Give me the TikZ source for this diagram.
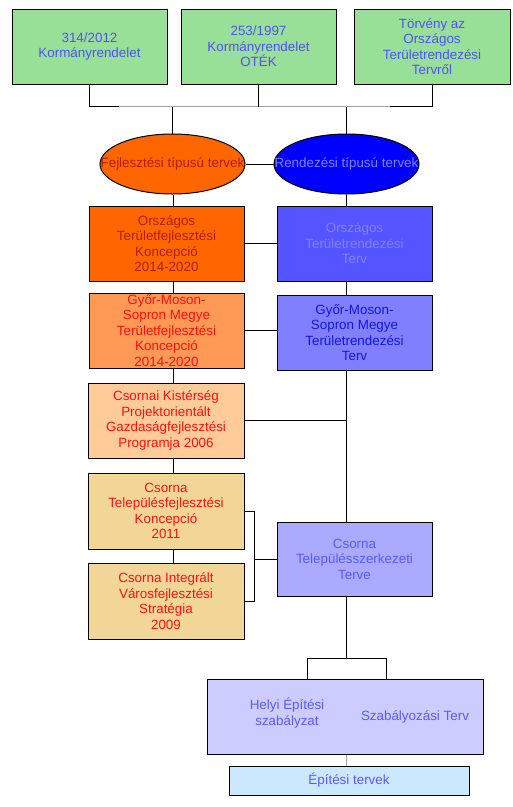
\documentclass[tikz,border=0pt]{standalone}
\usepackage{fontspec}
\setmainfont{Liberation Sans}
\usetikzlibrary{shapes.geometric}
\definecolor{grn}{HTML}{98E098}
\definecolor{tblue}{HTML}{5050FF}
\definecolor{oA}{HTML}{FF6600}
\definecolor{oB}{HTML}{FF9955}
\definecolor{oC}{HTML}{FFCC99}
\definecolor{oD}{HTML}{F2D698}
\definecolor{bA}{HTML}{5555FF}
\definecolor{bB}{HTML}{8080FF}
\definecolor{bC}{HTML}{AAAAFF}
\definecolor{bD}{HTML}{CCCCFF}
\definecolor{bE}{HTML}{CCE8FF}
\definecolor{dred}{HTML}{B02000}
\definecolor{lred}{HTML}{FF1010}
\definecolor{lblue}{HTML}{8080FF}
\definecolor{dblue}{HTML}{1515E0}
\definecolor{mblue}{HTML}{5A5AFF}
\definecolor{busgray}{HTML}{A0A0A0}
\begin{document}
\begin{tikzpicture}[x=1pt,y=-1pt,
  txt/.style={font=\fontsize{13.4}{15.5}\selectfont, align=center, inner sep=0pt},
  box/.style={txt, draw=black, line width=1pt, minimum width=155pt, minimum height=75pt},
  ell/.style={ellipse, draw=black, line width=1pt, minimum width=145pt, minimum height=60pt, inner sep=0pt},
  conn/.style={draw=black, line width=1pt}]
\useasboundingbox (0,0) rectangle (513,807);
% top boxes
\node[box, fill=grn, text=tblue] (t1) at (89.5,46.5) {314/2012\\Kormányrendelet};
\node[box, fill=grn, text=tblue] (t2) at (258.5,46.5) {253/1997\\Kormányrendelet\\OTÉK};
\node[box, fill=grn, text=tblue, minimum width=156pt] (t3) at (432,46.5) {Törvény az\\Országos\\Területrendezési\\Tervről};
% ellipses
\node[ell, fill=oA] (e1) at (172.5,164) {};
\node[txt, text=dred] (e1t) at (e1) {Fejlesztési típusú tervek};
\node[ell, fill=blue] (e2) at (346.5,164) {};
\node[txt, text=lblue] (e2t) at (e2) {Rendezési típusú tervek};
% left column
\node[box, fill=oA, text=dred] (b1) at (166.5,243.5) {Országos\\Területfejlesztési\\Koncepció\\2014-2020};
\node[box, fill=oB, text=lred] (b2) at (166.5,330.5) {Győr-Moson-\\Sopron Megye\\Területfejlesztési\\Koncepció\\2014-2020};
\node[box, fill=oC, text=lred, minimum width=156pt] (b3) at (166,420.5) {Csornai Kistérség\\Projektorientált\\Gazdaságfejlesztési\\Programja 2006};
\node[box, fill=oD, text=lred, minimum width=156pt, minimum height=76pt] (b4) at (166,511) {Csorna\\Településfejlesztési\\Koncepció\\2011};
\node[box, fill=oD, text=lred, minimum width=156pt, minimum height=76pt] (b5) at (166,601) {Csorna Integrált\\Városfejlesztési\\Stratégia\\2009};
% right column
\node[box, fill=bA, text=lblue] (r1) at (354.5,243.5) {Országos\\Területrendezési\\Terv};
\node[box, fill=bB, text=dblue] (r2) at (354.5,332.5) {Győr-Moson-\\Sopron Megye\\Területrendezési\\Terv};
\node[box, fill=bC, text=mblue, minimum height=74pt] (r3) at (354.5,559) {Csorna\\Településszerkezeti\\Terve};
% bottom
\node[box, fill=bD, minimum width=276pt] (bt) at (345,716.5) {};
\node[txt, text=mblue] (bt1) at (287,713) {Helyi Építési\\szabályzat};
\node[txt, text=mblue] (bt2) at (415,717) {Szabályozási Terv};
\node[box, fill=bE, text=mblue, minimum width=240pt, minimum height=29pt] (ep) at (349,780.5) {Építési tervek};
% helper coordinates
\coordinate (bus) at (0,106.5);
\coordinate (lx) at (173,0);
\coordinate (rx) at (346.5,0);
\coordinate (bk) at (254,0);
\coordinate (sp) at (0,658);
\coordinate (spl) at (307,0);
\coordinate (spr) at (386,0);
\coordinate (g1) at (119,0);
\coordinate (g2) at (390,0);
% top bus
\draw[conn] (t1.south) |- (g1 |- bus);
\draw[conn] (g2 |- bus) -| (t3.south);
\draw[line width=1pt, busgray] (g1 |- bus) -- (g2 |- bus);
\draw[conn] (t2.south) -- (t2.south |- bus);
\draw[conn] (e1.north) -- (e1.north |- bus);
\draw[conn] (e2.north) -- (e2.north |- bus);
\draw[conn] (e1.east) -- (e2.west);
% left column verticals
\draw[conn] (lx |- e1.south) -- (lx |- b1.north);
\draw[conn] (lx |- b1.south) -- (lx |- b2.north);
\draw[conn] (lx |- b2.south) -- (lx |- b3.north);
\draw[conn] (lx |- b3.south) -- (lx |- b4.north);
\draw[conn] (lx |- b4.south) -- (lx |- b5.north);
% right column verticals
\draw[conn] (rx |- e2.south) -- (rx |- r1.north);
\draw[conn] (rx |- r1.south) -- (rx |- r2.north);
\draw[conn] (rx |- r2.south) -- (rx |- r3.north);
% horizontals
\draw[conn] (b1.east) -- (b1.east -| r1.west);
\draw[conn] (b2.east) -- (b2.east -| r2.west);
\draw[conn] (b3.east) -- (b3.east -| rx);
% bracket
\draw[conn] (b4.east) -| (bk |- b5.east) -- (b5.east);
\draw[conn] (r3.west) -- (r3.west -| bk);
% bottom split
\draw[conn] (rx |- r3.south) -- (rx |- sp);
\draw[conn] (spl |- bt.north) |- (spr |- sp) -- (spr |- bt.north);
\draw[line width=1pt, busgray] (rx |- bt.south) -- (rx |- ep.north);
\end{tikzpicture}
\end{document}
